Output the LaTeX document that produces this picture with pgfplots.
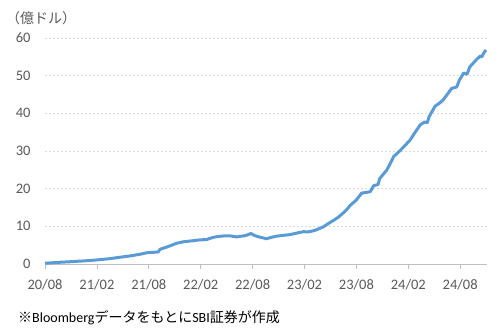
\documentclass[border=0pt]{standalone}
\usepackage{fontspec}
\setmainfont{Carlito}
\newfontfamily\jp{Noto Sans CJK JP}
\usepackage{pgfplots}
\pgfplotsset{compat=1.18}
\definecolor{lineblue}{HTML}{5B9BD5}
\definecolor{gridgray}{HTML}{D9D9D9}
\definecolor{axgray}{HTML}{BFBFBF}
\definecolor{txtgray}{HTML}{595959}
\begin{document}
\begin{tikzpicture}[x=1pt,y=1pt]
\path[use as bounding box] (-45,-66) rectangle (457,264);
\begin{axis}[
  at={(0,0)}, anchor=south west,
  scale only axis, width=442pt, height=226pt,
  xmin=0, xmax=51.1, ymin=0, ymax=60,
  xtick={0,6,12,18,24,30,36,42,48},
  xticklabels={20/08,21/02,21/08,22/02,22/08,23/02,23/08,24/02,24/08},
  ytick={0,10,20,30,40,50,60},
  axis x line*=bottom, axis y line*=left,
  y axis line style={draw=none},
  x axis line style={draw=axgray, line width=0.8pt},
  ytick style={draw=none},
  xtick style={draw=axgray, line width=0.8pt},
  tick align=outside, major tick length=5pt,
  ymajorgrids, grid style={dashed, dash pattern=on 2pt off 2pt, draw=gridgray, line width=0.6pt},
  tick label style={font=\fontsize{14.5}{16}\selectfont, text=txtgray},
  /pgf/number format/assume math mode=true,
  yticklabel style={xshift=-6pt},
  xticklabel style={yshift=-7pt},
  clip=false,
]
\addplot[lineblue, line width=3pt, line join=round] coordinates {
(0,0.2) (1,0.35) (2,0.5) (2.9,0.6) (4,0.75) (5,0.9) (6.1,1.1) (7.4,1.4) (8.7,1.8) (10,2.2) (11,2.6) (11.8,3.0) (12.5,3.1) (13.1,3.2) (13.3,3.9) (14.2,4.6) (15.2,5.5) (16,5.9) (16.8,6.1) (17.9,6.4) (18.7,6.5) (19.2,6.9) (19.7,7.2) (20.4,7.4) (21.0,7.5) (21.4,7.5) (21.8,7.3) (22.2,7.2) (22.7,7.4) (23.1,7.5) (23.5,7.8) (23.8,8.1) (24.2,7.6) (24.7,7.2) (25.1,7.0) (25.6,6.7) (26.2,7.1) (26.8,7.4) (27.5,7.6) (28.3,7.8) (29.1,8.2) (29.9,8.6) (30.3,8.5) (30.6,8.6) (31.0,8.8) (31.4,9.1) (32.2,9.9) (32.8,10.8) (33.3,11.5) (33.9,12.4) (34.5,13.6) (34.9,14.5) (35.3,15.6) (36.0,17.0) (36.6,18.8) (37.1,19.0) (37.6,19.2) (38.0,20.8) (38.5,21.1) (38.7,22.7) (39.1,23.8) (39.5,24.9) (39.9,26.6) (40.3,28.5) (41.0,30.0) (41.6,31.4) (42.2,32.9) (42.8,35.0) (43.4,37.0) (43.9,37.7) (44.2,37.5) (44.4,39.1) (45.1,41.9) (45.6,42.7) (46.0,43.5) (46.5,45.0) (47.0,46.6) (47.6,47.0) (47.9,48.8) (48.4,50.7) (48.8,50.4) (49.1,52.3) (49.5,53.3) (49.9,54.3) (50.3,55.2) (50.5,55.0) (50.8,56.3) (51.0,56.8)
};
\end{axis}
\node[anchor=west, inner sep=0pt, text=txtgray, font=\jp\fontsize{14}{16}\selectfont] at (-39,246) {（億ドル）};
\node[anchor=west, inner sep=0pt, text=black, font=\fontsize{14}{16}\selectfont] at (-27,-54) {{\jp ※}Bloomberg{\jp データをもとに}SBI{\jp 証券が作成}};
\end{tikzpicture}
\end{document}
